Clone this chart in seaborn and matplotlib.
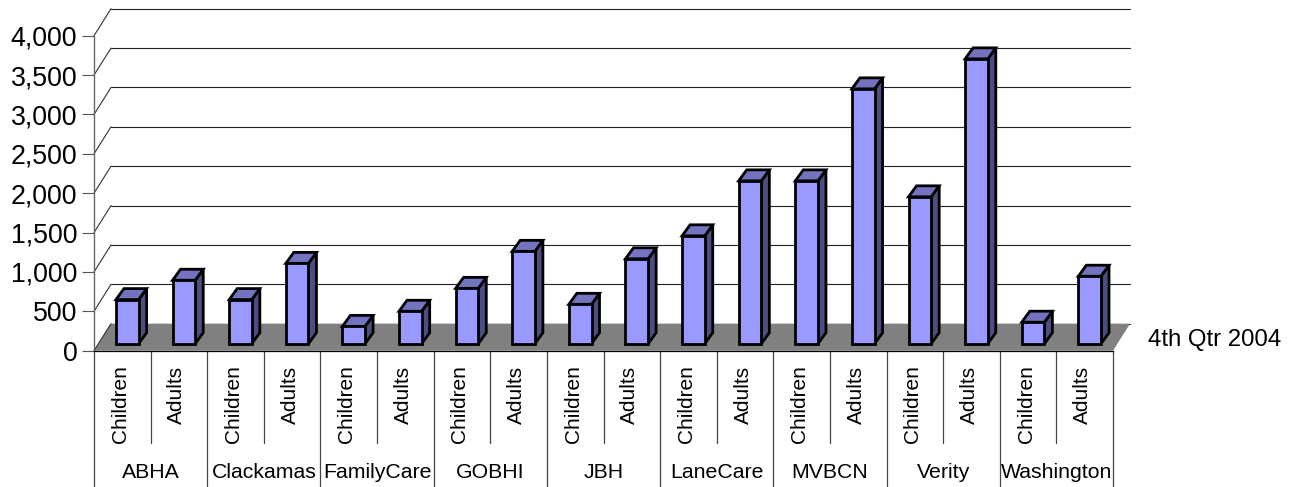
import matplotlib
matplotlib.use("Agg")
import matplotlib.pyplot as plt
from matplotlib.patches import Polygon
from matplotlib.transforms import ScaledTranslation
import numpy as np
import pandas as pd
import seaborn as sns

groups = ["ABHA", "Clackamas", "FamilyCare", "GOBHI", "JBH", "LaneCare", "MVBCN", "Verity", "Washington"]
ages = ["Children", "Adults"]
children = [560, 560, 220, 703, 500, 1370, 2068, 1865, 273]
adults = [806, 1020, 412, 1173, 1078, 2068, 3236, 3617, 857]
series_name = "4th Qtr 2004"
yticks = [0, 500, 1000, 1500, 2000, 2500, 3000, 3500, 4000]

W, H = 1292, 487
X0, X1, Y0, Y4K = 94.0, 1113.0, 350.7, 35.7
DEPTH_X, DEPTH_Y = 17.0, 27.0
BAR_DX, BAR_DY = 8.0, 11.0
SHIFT_X, LIFT_Y = 5.0, 7.0
EDGE = 2.0

sns.set_style("white")
plt.rcParams["font.family"] = ["Liberation Sans", "DejaVu Sans"]
plt.rcParams["text.color"] = "black"

rows = []
for g, c, a in zip(groups, children, adults):
    rows.append({"key": g + " " + ages[0], "value": c})
    rows.append({"key": g + " " + ages[1], "value": a})
df = pd.DataFrame(rows)

fig = plt.figure(figsize=(W / 100, H / 100), dpi=100, facecolor="white")
ax = fig.add_axes([X0 / W, (H - Y0) / H, (X1 - X0) / W, (Y0 - Y4K) / H])

sns.barplot(data=df, x="key", y="value", ax=ax, color="#9999FF", saturation=1,
            width=0.4, edgecolor="black", linewidth=EDGE, zorder=4)
bars = list(ax.containers[0])

n = len(df)
ax.set_xlim(-0.5, n - 0.5)
ax.set_ylim(0, 4000)
ax.set_xlabel("")
ax.set_ylabel("")
px = n / (X1 - X0)          # data x per pixel
py = 4000 / (Y0 - Y4K)      # data y per pixel

# walls, floor
dx, dy = DEPTH_X * px, DEPTH_Y * py
for v in yticks:
    ax.plot([-0.5, -0.5 + dx], [v, v + dy], color="#333333", lw=0.8, clip_on=False, zorder=2)
    ax.plot([-0.5 + dx, n - 0.5 + dx], [v + dy, v + dy], color="#222222", lw=0.8, clip_on=False, zorder=1)
ax.add_patch(Polygon([(-0.5, 0), (n - 0.5, 0), (n - 0.5 + dx, dy), (-0.5 + dx, dy)], closed=True,
                     facecolor="#808080", edgecolor="none", clip_on=False, zorder=1.5))

# bars: lift on to the floor, add side and top faces
bdx, bdy = BAR_DX * px, BAR_DY * py
for p in bars:
    p.set_x(p.get_x() + SHIFT_X * px)
    p.set_y(LIFT_Y * py)
    p.set_clip_on(False)
    p.set_joinstyle("miter")
    xl, xr = p.get_x(), p.get_x() + p.get_width()
    yb, yt = p.get_y(), p.get_y() + p.get_height()
    ax.add_patch(Polygon([(xr, yb), (xr + bdx, yb + bdy), (xr + bdx, yt + bdy), (xr, yt)], closed=True,
                         facecolor="#4D4D80", edgecolor="black", lw=EDGE, clip_on=False, zorder=3.5, joinstyle="miter"))
    ax.add_patch(Polygon([(xl, yt), (xr, yt), (xr + bdx, yt + bdy), (xl + bdx, yt + bdy)], closed=True,
                         facecolor="#7373BF", edgecolor="black", lw=EDGE, clip_on=False, zorder=3.5, joinstyle="miter"))

# value axis
ax.set_yticks(yticks)
ax.set_yticklabels([f"{v:,}" for v in yticks], fontsize=19.3)
ax.tick_params(axis="y", left=True, length=8.6, width=0.8, color="#555555", pad=3.4, labelcolor="black")

# category axis
ax.set_xticks(range(n))
ax.set_xticklabels(ages * len(groups), rotation=90, fontsize=15, ha="center", va="top")
ax.tick_params(axis="x", bottom=False, pad=7.2, labelcolor="black")
nudge = ScaledTranslation(-2 / 100, 0, fig.dpi_scale_trans)
for t in ax.get_xticklabels():
    t.set_transform(t.get_transform() + nudge)

for s in ("top", "right"):
    ax.spines[s].set_visible(False)
ax.spines["left"].set_color("#666666")
ax.spines["left"].set_linewidth(1.0)
ax.spines["bottom"].set_color("black")
ax.spines["bottom"].set_linewidth(0.9)

inner_bot = -(443 - Y0) * py
outer_bot = -(H - Y0) * py
for g, name in enumerate(groups):
    left = 2 * g - 0.5
    ax.plot([left, left], [0, outer_bot], color="#444444", lw=0.9, clip_on=False, zorder=2)
    ax.plot([left + 1, left + 1], [0, inner_bot], color="#444444", lw=0.9, clip_on=False, zorder=2)
    ax.text(left + 1, -(473 - Y0) * py, name, ha="center", va="center", fontsize=15.3, clip_on=False, color="black")
ax.plot([n - 0.5, n - 0.5], [0, outer_bot], color="#444444", lw=0.9, clip_on=False, zorder=2)

ax.text(n - 0.5 + 35 * px, -(340 - Y0) * py, series_name, ha="left", va="center", fontsize=17.3, clip_on=False, color="black")

fig.savefig("out.png", dpi=100)
